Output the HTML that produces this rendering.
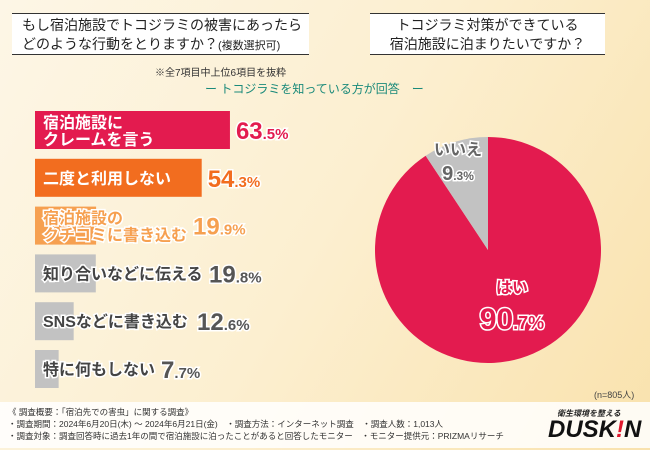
<!DOCTYPE html>
<html><head><meta charset="utf-8">
<style>
body{margin:0;width:650px;height:450px;overflow:hidden;font-family:"Liberation Sans","Noto Sans CJK JP",sans-serif;}
#root{position:relative;width:650px;height:450px;background:linear-gradient(120deg,#fdf6e6 0%,#fcefd0 50%,#f9e2ad 100%);}
.tbox{position:absolute;background:#fff;border-top:1.5px solid #333;border-bottom:1.5px solid #333;color:#222;font-size:14px;line-height:19px;white-space:nowrap;}
.abs{position:absolute;white-space:nowrap;}
#footer{position:absolute;left:0;top:402px;width:650px;height:46px;background:rgba(255,255,255,0.85);}
.fn{position:absolute;font-size:8.5px;color:#333;white-space:nowrap;left:8px;}
</style></head><body>
<div id="root">
<div class="tbox" style="left:12px;top:13px;width:297px;height:42px;padding-left:10px;box-sizing:border-box;padding-top:2px;">もし宿泊施設でトコジラミの被害にあったら<br>どのような行動をとりますか？<span style="font-size:11px">(複数選択可)</span></div>
<div class="tbox" style="left:370px;top:13px;width:235px;height:42px;text-align:center;padding-top:2px;box-sizing:border-box;">トコジラミ対策ができている<br>宿泊施設に泊まりたいですか？</div>
<div class="abs" style="left:155px;top:64px;font-size:10px;color:#333;">※全7項目中上位6項目を抜粋</div>
<div class="abs" style="left:205px;top:80px;font-size:12px;color:#1a8a7a;">ー トコジラミを知っている方が回答　ー</div>
<svg id="chart" width="650" height="400" style="position:absolute;left:0;top:0"></svg>
<div class="abs" style="left:594px;top:388px;font-size:9px;color:#444;">(n=805人)</div>
<div id="footer">
<div class="fn" style="top:4px">《 調査概要：「宿泊先での害虫」に関する調査》</div>
<div class="fn" style="top:16px">・調査期間：2024年6月20日(木) ～ 2024年6月21日(金)　・調査方法：インターネット調査　・調査人数：1,013人</div>
<div class="fn" style="top:28px">・調査対象：調査回答時に過去1年の間で宿泊施設に泊ったことがあると回答したモニター　・モニター提供元：PRIZMAリサーチ</div>
<div class="abs" style="left:557px;top:6px;font-size:8px;font-style:italic;font-weight:bold;color:#222;">衛生環境を整える</div>
<div class="abs" style="left:548px;top:14px;font-size:24px;font-style:italic;font-weight:900;color:#111;">DUSK<span style="color:#e0182d">!</span>N</div>
</div>
</div>
<script>
const cats=["宿泊施設に|クレームを言う","二度と利用しない","宿泊施設の|クチコミに書き込む","知り合いなどに伝える","SNSなどに書き込む","特に何もしない"];
const vals=[63.5,54.3,19.9,19.8,12.6,7.7];
const pieLabels=["はい","いいえ"];
const pieVals=[90.7,9.3];
const NS="http://www.w3.org/2000/svg";
const svg=document.getElementById('chart');
const colors=["#e31b4f","#f26d1f","#f6a050","#c2c2c2","#c2c2c2","#c2c2c2"];
const tcol=["#e31b4f","#f26d1f","#f6a050","#555","#555","#555"];
const x0=35,pxPer=3.07;
const xs=v=>x0+v*pxPer;
const ys=i=>111+i*47.8;
function el(t,a){const e=document.createElementNS(NS,t);for(const k in a)e.setAttribute(k,a[k]);svg.appendChild(e);return e;}
cats.forEach((c,i)=>{
 const r=el('rect',{x:x0,y:ys(i),width:xs(vals[i])-x0,height:38,fill:colors[i]});
 
 
 const lines=c.split('|');
 const tc=i<2?'#fff':(i==2?'#f6a050':'#444');
 lines.forEach((l,j)=>{
  const t=el('text',{x:x0+8,y:ys(i)+(lines.length==1?25:17+j*17),'font-size':16,fill:tc,'font-weight':'bold',stroke:i<2?'none':'#fff','stroke-width':i<2?0:3,'paint-order':'stroke'});
  t.textContent=l;
  
  
 });
 const tw=lines.length==1?lines[0].length*16+(i==4?-12:0):Math.max(...lines.map(s=>s.length))*16;
 const lx=Math.max(xs(vals[i]),x0+8+tw)+6;
 const s=vals[i].toFixed(1).split('.');
 const v=el('text',{x:lx,y:ys(i)+28,fill:tcol[i],'font-weight':'bold',stroke:'#fff','stroke-width':3,'paint-order':'stroke'});
 v.innerHTML='<tspan font-size="24">'+s[0]+'</tspan><tspan font-size="15">.'+s[1]+'%</tspan>';
 
 
});
const cx=488,cy=250,R=113;
const pcol=["#e31b4f","#c2c2c2"];
let a0=-Math.PI/2;
pieVals.forEach((v,i)=>{
 const a1=a0+v/100*2*Math.PI;
 const large=(a1-a0)>Math.PI?1:0;
 const p=el('path',{d:`M${cx},${cy} L${cx+R*Math.cos(a0)},${cy+R*Math.sin(a0)} A${R},${R} 0 ${large} 1 ${cx+R*Math.cos(a1)},${cy+R*Math.sin(a1)} Z`,fill:pcol[i]});
 
 
 a0=a1;
});
function lab(x,y,txt,val,fill,name){
 const big=name=='pie-yes';
 const t=el('text',{x:x,y:y,'text-anchor':'middle','font-size':16,'font-weight':'bold',fill:fill,stroke:'#fff','stroke-width':3,'paint-order':'stroke'});
 t.textContent=txt;
 
 
 const s=val.toFixed(1).split('.');
 const v=el('text',{x:x,y:y+(big?36:25),'text-anchor':'middle','font-weight':'bold',fill:fill,stroke:'#fff','stroke-width':3,'paint-order':'stroke'});
 v.innerHTML='<tspan font-size="'+(big?30:20)+'">'+s[0]+'</tspan><tspan font-size="'+(big?18:12)+'">.'+s[1]+'%</tspan>';
 
 
}
lab(458,155,pieLabels[1],pieVals[1],'#666','pie-no');
lab(512,293,pieLabels[0],pieVals[0],'#e31b4f','pie-yes');
</script>
</body></html>
